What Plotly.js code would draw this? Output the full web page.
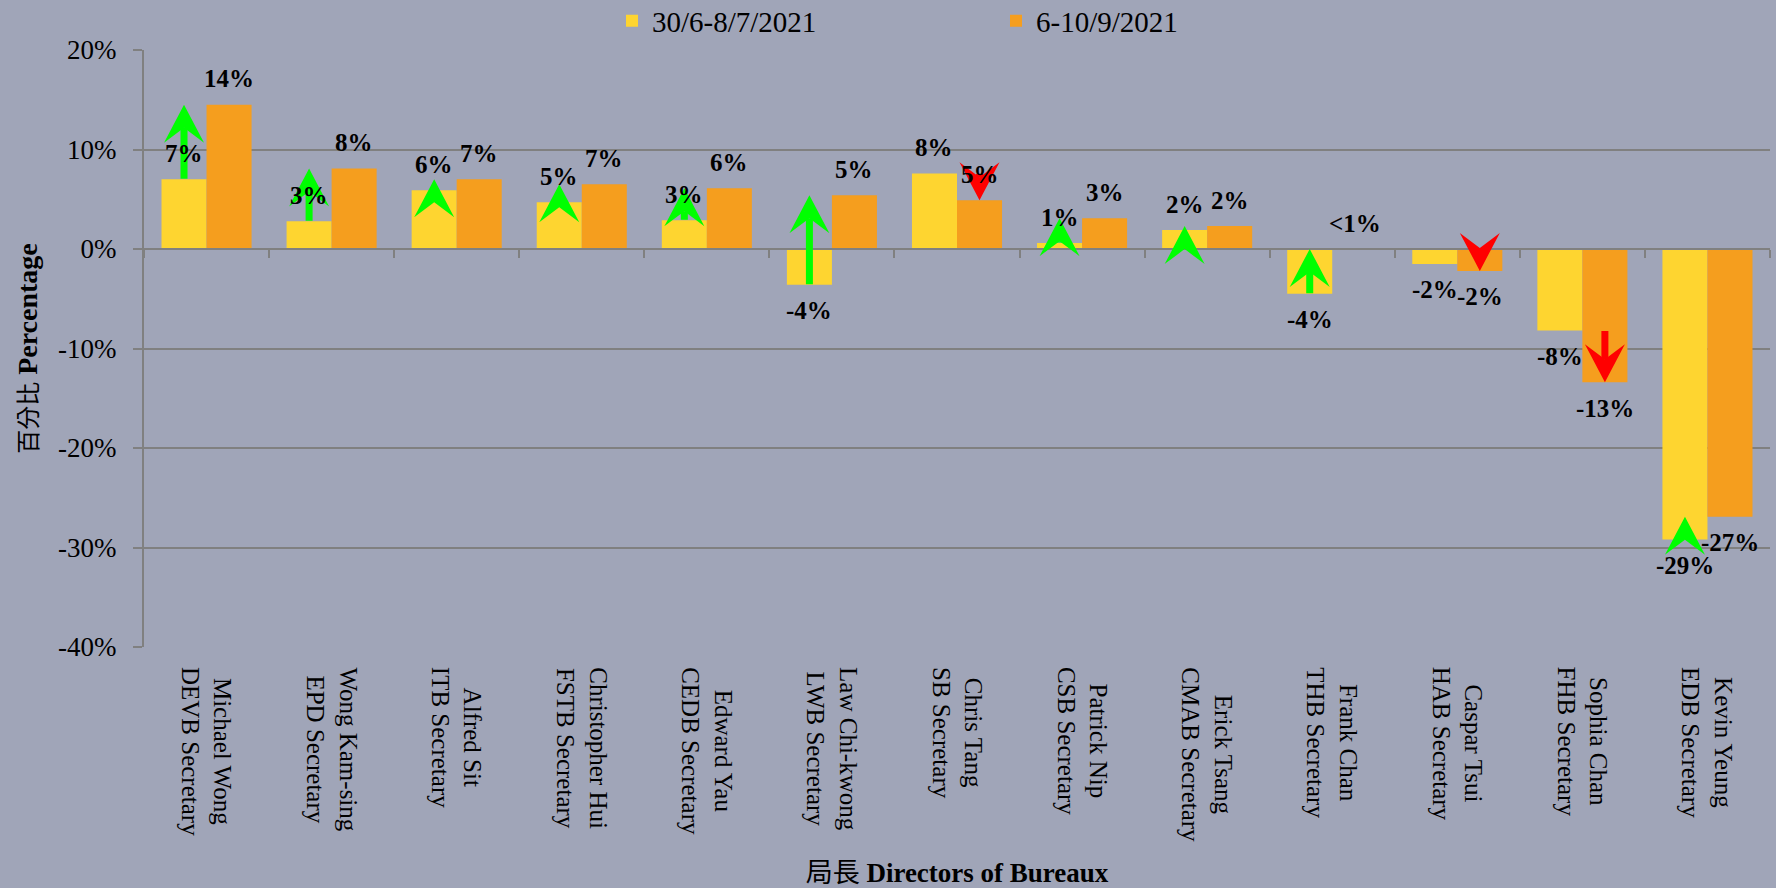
<!DOCTYPE html>
<html>
<head>
<meta charset="utf-8">
<script src="https://cdn.plot.ly/plotly-3.0.1.min.js"></script>
<style>
html, body { margin: 0; padding: 0; background: #A0A5B8; }
#chart { width: 1776px; height: 888px; }
</style>
</head>
<body>
<div id="chart"></div>
<script>
// ---------------- data ----------------
const names = ['Michael Wong', 'Wong Kam-sing', 'Alfred Sit', 'Christopher Hui', 'Edward Yau',
  'Law Chi-kwong', 'Chris Tang', 'Patrick Nip', 'Erick Tsang', 'Frank Chan',
  'Caspar Tsui', 'Sophia Chan', 'Kevin Yeung'];
const bureaus = ['DEVB Secretary', 'EPD Secretary', 'ITB Secretary', 'FSTB Secretary', 'CEDB Secretary',
  'LWB Secretary', 'SB Secretary', 'CSB Secretary', 'CMAB Secretary', 'THB Secretary',
  'HAB Secretary', 'FHB Secretary', 'EDB Secretary'];
const seriesNames = ['30/6-8/7/2021', '6-10/9/2021'];
const julValues = [7.0, 2.8, 5.9, 4.7, 2.9, -3.6, 7.6, 0.6, 1.9, -4.5, -1.5, -8.2, -29.2];
const sepValues = [14.5, 8.1, 7.0, 6.5, 6.1, 5.4, 4.9, 3.1, 2.3, 0.0, -2.2, -13.4, -26.9];
const julLabels = ['7%', '3%', '6%', '5%', '3%', '-4%', '8%', '1%', '2%', '-4%', '-2%', '-8%', '-29%'];
const sepLabels = ['14%', '8%', '7%', '7%', '6%', '5%', '5%', '3%', '2%', '<1%', '-2%', '-13%', '-27%'];
const yTickVals = [20, 10, 0, -10, -20, -30, -40];
const yTickText = ['20%', '10%', '0%', '-10%', '-20%', '-30%', '-40%'];
const yTitle = '<span style="font-size:24px">百分比</span> <b>Percentage</b>';
const xTitle = '局長 <b>Directors of Bureaux</b>';

// ---------------- styles ----------------
const FONT = 'Liberation Serif, Times New Roman, Noto Sans CJK TC, serif';
const BG = '#A0A5B8';
const GRID = '#808080';
const YELLOW = '#FED530';
const ORANGE = '#F59E1E';
const GREEN = '#00FF00';
const RED = '#FF0000';
const Y_RANGE = [-40, 20];
const BARGAP = 0.28;
const OFF = (1 - BARGAP) / 4;      // centre of each bar relative to its category
const LABEL_GAP = 26;               // px between bar end and label centre
const STEM_W = 7;
const HEAD_W = 40, HEAD_L = 38, HEAD_NOTCH = 23;

const categories = names.map((n, i) => n + '<br>' + bureaus[i]);

function esc(s) { return s.replace(/&/g, '&amp;').replace(/</g, '&lt;').replace(/>/g, '&gt;'); }
function headPath(dir) {
  const w = HEAD_W / 2, l = HEAD_L * dir, n = HEAD_NOTCH * dir;
  return 'M0,0L' + w + ',' + (-l) + 'L0,' + (-n) + 'L' + (-w) + ',' + (-l) + 'Z';
}

const traces = [
  { type: 'bar', name: seriesNames[0], x: categories, y: julValues,
    marker: { color: YELLOW, line: { width: 0 } }, hoverinfo: 'skip' },
  { type: 'bar', name: seriesNames[1], x: categories, y: sepValues,
    marker: { color: ORANGE, line: { width: 0 } }, hoverinfo: 'skip' }
];

const annotations = [];
const shapes = [];

// change arrows: green up on the first bar, red down on the second bar
categories.forEach((c, i) => {
  const up = sepValues[i] > julValues[i];
  const xPos = up ? i - OFF : i + OFF;
  const color = up ? GREEN : RED;
  annotations.push({
    x: xPos, y: sepValues[i], ax: xPos, ay: julValues[i],
    xref: 'x', yref: 'y', axref: 'x', ayref: 'y',
    text: '', showarrow: true, arrowhead: 0, arrowwidth: STEM_W, arrowcolor: color,
    standoff: HEAD_NOTCH, font: { size: 1 }, borderpad: 0
  });
  shapes.push({
    type: 'path', xref: 'x', yref: 'y', xsizemode: 'pixel', ysizemode: 'pixel',
    xanchor: xPos, yanchor: sepValues[i], path: headPath(up ? 1 : -1),
    fillcolor: color, line: { width: 0 }, layer: 'above'
  });
});

// value labels
[[julValues, julLabels, -OFF], [sepValues, sepLabels, OFF]].forEach(([vals, labs, xo]) => {
  vals.forEach((v, i) => {
    annotations.push({
      x: i + xo, y: v, xref: 'x', yref: 'y',
      text: '<b>' + esc(labs[i]) + '</b>', showarrow: false,
      xanchor: 'center', yanchor: 'middle', yshift: v >= 0 ? LABEL_GAP : -LABEL_GAP,
      font: { family: FONT, size: 25, color: '#000' }
    });
  });
});

// category labels (rotated, centred lines)
categories.forEach((c, i) => {
  annotations.push({
    x: i, xref: 'x', y: 0, yref: 'paper', xanchor: 'center', yanchor: 'top', yshift: -18,
    text: c, textangle: 90, align: 'center', showarrow: false,
    font: { family: FONT, size: 25, color: '#000' }
  });
});

const layout = {
  width: 1776, height: 888,
  paper_bgcolor: BG, plot_bgcolor: BG,
  margin: { l: 144, r: 6, t: 50, b: 241, pad: 0 },
  barmode: 'group', bargap: BARGAP, bargroupgap: 0,
  font: { family: FONT, color: '#000' },
  showlegend: true,
  legend: {
    orientation: 'h', xref: 'container', yref: 'container',
    x: 612 / 1776, xanchor: 'left', y: 1 - 21 / 888, yanchor: 'middle',
    entrywidth: 339, entrywidthmode: 'pixels',
    font: { family: FONT, size: 29, color: '#000' }, bgcolor: 'rgba(0,0,0,0)'
  },
  xaxis: {
    type: 'category', anchor: 'free',
    position: (0 - Y_RANGE[0]) / (Y_RANGE[1] - Y_RANGE[0]),
    showline: true, linecolor: GRID, linewidth: 2,
    ticks: 'outside', tickson: 'boundaries', ticklen: 8, tickwidth: 2, tickcolor: GRID,
    showticklabels: false, showgrid: false, zeroline: false, fixedrange: true,
    title: { text: xTitle, font: { family: FONT, size: 27, color: '#000' }, standoff: 614 }
  },
  yaxis: {
    range: Y_RANGE, tickvals: yTickVals, ticktext: yTickText,
    showgrid: true, gridcolor: GRID, gridwidth: 2, zeroline: false,
    showline: true, linecolor: GRID, linewidth: 2,
    ticks: 'outside', ticklen: 9, tickwidth: 2, tickcolor: GRID,
    tickfont: { family: FONT, size: 27, color: '#000' }, ticklabelstandoff: 11,
    fixedrange: true,
    title: { text: yTitle, font: { family: FONT, size: 28, color: '#000' }, standoff: 12 }
  },
  annotations: annotations,
  shapes: shapes
};

Plotly.newPlot('chart', traces, layout, { staticPlot: true, displayModeBar: false });
</script>
</body>
</html>
